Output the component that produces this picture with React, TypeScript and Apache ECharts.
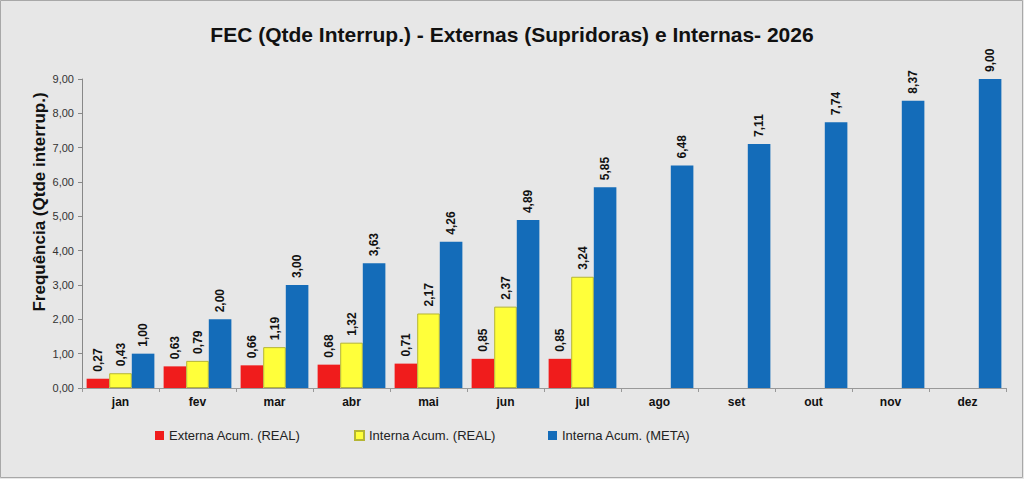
import React, { useEffect, useRef } from "react";
import * as echarts from "echarts";

const months = ["jan", "fev", "mar", "abr", "mai", "jun", "jul", "ago", "set", "out", "nov", "dez"];
const externaReal = [0.27, 0.63, 0.66, 0.68, 0.71, 0.85, 0.85, null, null, null, null, null];
const internaReal = [0.43, 0.79, 1.19, 1.32, 2.17, 2.37, 3.24, null, null, null, null, null];
const internaMeta = [1.0, 2.0, 3.0, 3.63, 4.26, 4.89, 5.85, 6.48, 7.11, 7.74, 8.37, 9.0];
const seriesNames = ["Externa Acum. (REAL)", "Interna Acum. (REAL)", "Interna Acum. (META)"];
const yAxisTitle = "Frequência (Qtde interrup.)";

const fmt = (v: number) => v.toFixed(2).replace(".", ",");
const FONT = "Liberation Sans, Arial, sans-serif";

export default function App() {
  const ref = useRef<HTMLDivElement>(null);
  useEffect(() => {
    document.body.style.margin = "0";
    const chart = echarts.init(ref.current!, null, { renderer: "svg" });
    const label = {
      show: true,
      position: "top" as const,
      rotate: 90,
      align: "left" as const,
      verticalAlign: "middle" as const,
      distance: 7,
      fontSize: 12,
      fontWeight: "bold" as const,
      color: "#111",
      fontFamily: FONT,
      formatter: (p: any) => fmt(p.value),
    };
    const legendBase = {
      orient: "horizontal" as const,
      top: 424,
      itemWidth: 9,
      itemHeight: 9,
      icon: "rect",
      textStyle: { fontSize: 13, color: "#222", fontFamily: FONT },
      itemGap: 4,
    };
    chart.setOption({
      animation: false,
      backgroundColor: "#e7e7e7",
      title: {
        text: "FEC (Qtde Interrup.) - Externas (Supridoras) e Internas- 2026",
        left: "center",
        top: 19,
        textStyle: { fontSize: 21, fontWeight: "bold", color: "#111", fontFamily: FONT },
      },
      legend: [
        { ...legendBase, left: 150, data: [seriesNames[0]] },
        { ...legendBase, left: 349, data: [seriesNames[1]] },
        { ...legendBase, left: 543, data: [seriesNames[2]] },
      ],
      grid: { left: 82, right: 18, top: 79, bottom: 91 },
      xAxis: {
        type: "category",
        data: months,
        axisLine: { lineStyle: { color: "#999" } },
        axisTick: { show: true, length: 4, lineStyle: { color: "#999" } },
        axisLabel: { fontSize: 12, fontWeight: "bold", color: "#111", fontFamily: FONT, margin: 8 },
      },
      yAxis: {
        type: "value",
        min: 0,
        max: 9,
        interval: 1,
        splitLine: { show: false },
        axisLine: { show: true, lineStyle: { color: "#888" } },
        axisTick: { show: true, length: 4, lineStyle: { color: "#888" } },
        axisLabel: { fontSize: 11, color: "#333", fontFamily: FONT, margin: 8, formatter: (v: number) => fmt(v) },
      },
      series: [
        {
          name: seriesNames[0],
          type: "bar",
          data: externaReal,
          barGap: "0%",
          barCategoryGap: "12%",
          itemStyle: { color: "#f01c1c" },
          label,
        },
        {
          name: seriesNames[1],
          type: "bar",
          data: internaReal,
          barGap: "0%",
          barCategoryGap: "12%",
          itemStyle: { color: "#ffff3a", borderColor: "#b5b533", borderWidth: 1 },
          label,
        },
        {
          name: seriesNames[2],
          type: "bar",
          data: internaMeta,
          barGap: "0%",
          barCategoryGap: "12%",
          itemStyle: { color: "#146cb9" },
          label,
        },
      ],
      graphic: [
        {
          type: "rect",
          shape: { x: 0.5, y: 0.5, width: 1022, height: 477 },
          style: { fill: "none", stroke: "#a8a8a8", lineWidth: 1 },
          silent: true,
        },
        {
          type: "text",
          x: 39,
          y: 202,
          rotation: Math.PI / 2,
          silent: true,
          style: {
            text: yAxisTitle,
            fill: "#111",
            font: "bold 17px " + FONT,
            textAlign: "center",
            textVerticalAlign: "middle",
          },
        },
      ],
    });
    return () => chart.dispose();
  }, []);
  return <div ref={ref} style={{ width: 1024, height: 479 }} />;
}
